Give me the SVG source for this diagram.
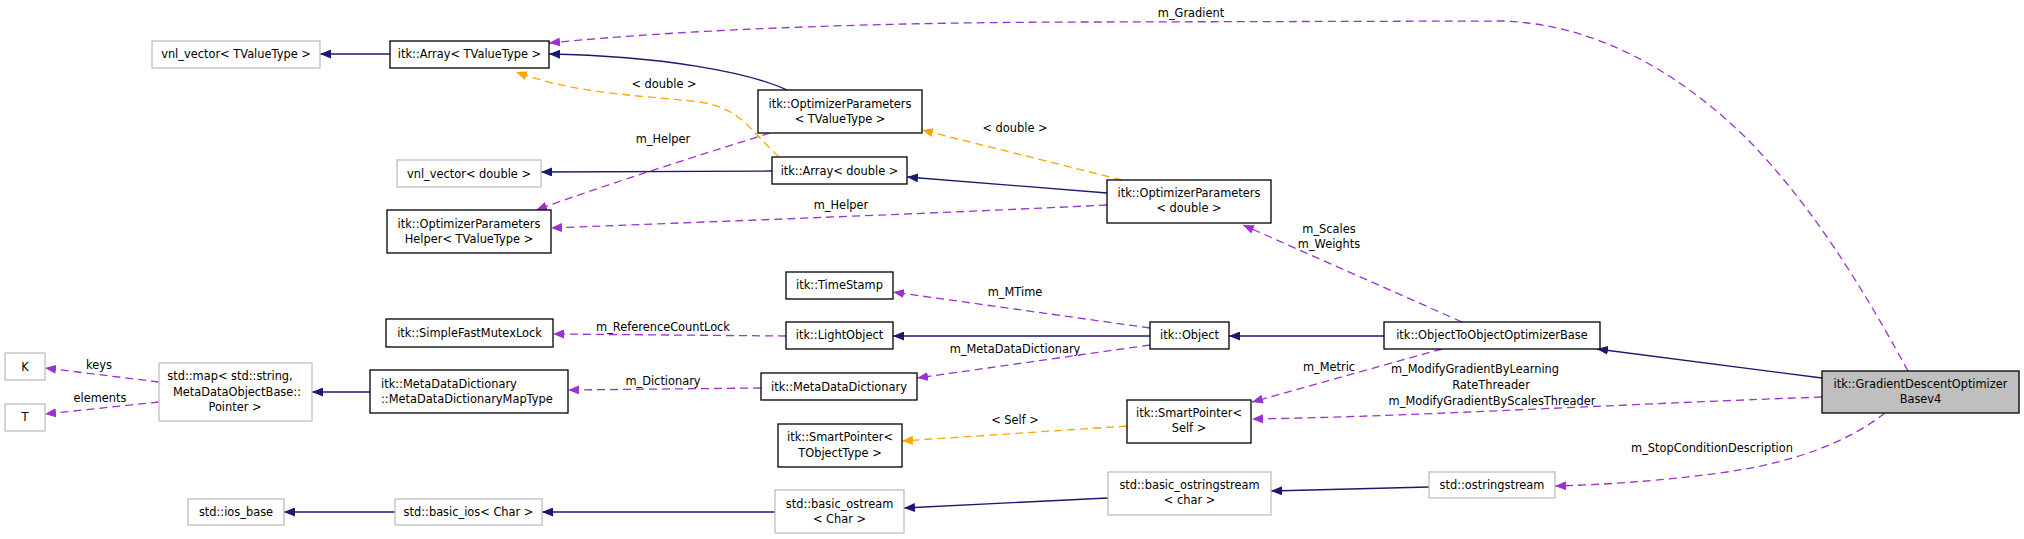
<svg xmlns="http://www.w3.org/2000/svg" width="2024" height="539" viewBox="0 0 2024 539">
<style>
text{font-family:"DejaVu Sans",sans-serif;font-size:11.4px;fill:#000;text-anchor:middle}
.st{text-anchor:start}
.nb{fill:#fff;stroke:#000;stroke-width:1.3}
.ng{fill:#fff;stroke:#bfbfbf;stroke-width:1.3}
.nd{fill:#bfbfbf;stroke:#000;stroke-width:1.3}
.inh{fill:none;stroke:#191970;stroke-width:1.3;marker-end:url(#an)}
.use{fill:none;stroke:#9a32cd;stroke-width:1.3;stroke-dasharray:8,5;marker-end:url(#ap)}
.tpl{fill:none;stroke:#ffa500;stroke-width:1.3;stroke-dasharray:8,5;marker-end:url(#ao)}
</style>
<defs>
<marker id="an" markerUnits="userSpaceOnUse" markerWidth="12" markerHeight="9" refX="11" refY="4.5" orient="auto"><path d="M0,0 L11,4.5 L0,9 z" fill="#191970"/></marker>
<marker id="ap" markerUnits="userSpaceOnUse" markerWidth="12" markerHeight="9" refX="11" refY="4.5" orient="auto"><path d="M0,0 L11,4.5 L0,9 z" fill="#9a32cd"/></marker>
<marker id="ao" markerUnits="userSpaceOnUse" markerWidth="12" markerHeight="9" refX="11" refY="4.5" orient="auto"><path d="M0,0 L11,4.5 L0,9 z" fill="#ffa500"/></marker>
</defs>
<rect width="2024" height="539" fill="#fff"/>
<g id="edges">
<path class="inh" d="M390,54 L320,54"/>
<path class="inh" d="M789,91 C750,72 660,56 549,54"/>
<path class="inh" d="M772,171 L541,172"/>
<path class="inh" d="M1107,193 L907,177"/>
<path class="inh" d="M1150,336 L893,336"/>
<path class="inh" d="M1384,336 L1229,336"/>
<path class="inh" d="M1822,378 L1597,349"/>
<path class="inh" d="M370,392 L312,392"/>
<path class="inh" d="M395,512 L284,512"/>
<path class="inh" d="M775,512 L542,512"/>
<path class="inh" d="M1108,498 L904,508"/>
<path class="inh" d="M1429,487 L1271,491"/>
<path class="use" d="M1908,371 C1880,320 1820,210 1741,133 C1680,75 1600,25 1504,21 L1100,22 C900,22 700,28 549,43"/>
<path class="use" d="M770,133 C700,155 620,180 536,210"/>
<path class="use" d="M1107,205 C900,215 700,222 551,228"/>
<path class="use" d="M1462,322 L1243,225"/>
<path class="use" d="M1150,328 L893,292"/>
<path class="use" d="M786,336 L553,334"/>
<path class="use" d="M1150,345 L917,378"/>
<path class="use" d="M761,388 L568,390"/>
<path class="use" d="M159,382 L45,368"/>
<path class="use" d="M159,402 L45,414"/>
<path class="use" d="M1442,349 L1252,402"/>
<path class="use" d="M1822,397 C1600,405 1400,417 1252,419"/>
<path class="use" d="M1885,413 C1850,440 1800,462 1720,473 C1660,481 1600,485 1555,486"/>
<path class="tpl" d="M1122,180 L922,130"/>
<path class="tpl" d="M779,157 C750,130 740,108 700,102 C640,95 580,95 516,72"/>
<path class="tpl" d="M1127,426 L902,441"/>
<text x="1191" y="17">m_Gradient</text>
<text x="664" y="88">&lt; double &gt;</text>
<text x="663" y="143">m_Helper</text>
<text x="1015" y="132">&lt; double &gt;</text>
<text x="841" y="209">m_Helper</text>
<text x="1329" y="233">m_Scales</text>
<text x="1329" y="248">m_Weights</text>
<text x="1015" y="296">m_MTime</text>
<text x="663" y="331">m_ReferenceCountLock</text>
<text x="1015" y="353">m_MetaDataDictionary</text>
<text x="663" y="385">m_Dictionary</text>
<text x="99" y="369">keys</text>
<text x="100" y="402">elements</text>
<text x="1329" y="371">m_Metric</text>
<text x="1475" y="373">m_ModifyGradientByLearning</text>
<text x="1491" y="389">RateThreader</text>
<text x="1492" y="405">m_ModifyGradientByScalesThreader</text>
<text x="1015" y="424">&lt; Self &gt;</text>
<text x="1712" y="452">m_StopConditionDescription</text>
</g>
<g id="vnl_TV"><rect class="ng" x="152" y="41" width="168" height="27"/><text x="236" y="58">vnl_vector&lt; TValueType &gt;</text></g>
<g id="arrayTV"><rect class="nb" x="390" y="41" width="159" height="27"/><text x="469.5" y="58">itk::Array&lt; TValueType &gt;</text></g>
<g id="optTV"><rect class="nb" x="758" y="90" width="164" height="43"/><text x="840" y="108">itk::OptimizerParameters</text><text x="840" y="123">&lt; TValueType &gt;</text></g>
<g id="arrayD"><rect class="nb" x="772" y="157" width="135" height="27"/><text x="839.5" y="175">itk::Array&lt; double &gt;</text></g>
<g id="vnlD"><rect class="ng" x="397" y="160" width="144" height="27"/><text x="469" y="178">vnl_vector&lt; double &gt;</text></g>
<g id="helper"><rect class="nb" x="387" y="210" width="164" height="43"/><text x="469" y="228">itk::OptimizerParameters</text><text x="469" y="243">Helper&lt; TValueType &gt;</text></g>
<g id="optD"><rect class="nb" x="1107" y="180" width="164" height="43"/><text x="1189" y="197">itk::OptimizerParameters</text><text x="1189" y="212">&lt; double &gt;</text></g>
<g id="timestamp"><rect class="nb" x="786" y="272" width="107" height="27"/><text x="839.5" y="289">itk::TimeStamp</text></g>
<g id="mutex"><rect class="nb" x="386" y="319" width="167" height="28"/><text x="469.5" y="337">itk::SimpleFastMutexLock</text></g>
<g id="lightobj"><rect class="nb" x="786" y="322" width="107" height="27"/><text x="839.5" y="339">itk::LightObject</text></g>
<g id="object"><rect class="nb" x="1150" y="322" width="79" height="27"/><text x="1189.5" y="339">itk::Object</text></g>
<g id="o2o"><rect class="nb" x="1384" y="322" width="216" height="27"/><text x="1492" y="339">itk::ObjectToObjectOptimizerBase</text></g>
<g id="K"><rect class="ng" x="5" y="353" width="40" height="27"/><text x="25" y="371">K</text></g>
<g id="T"><rect class="ng" x="5" y="404" width="40" height="27"/><text x="25" y="421">T</text></g>
<g id="map"><rect class="ng" x="159" y="363" width="153" height="58"/><text x="230" y="380">std::map&lt; std::string,</text><text x="237" y="396">MetaDataObjectBase::</text><text x="235" y="411">Pointer &gt;</text></g>
<g id="mapType"><rect class="nb" x="370" y="370" width="198" height="43"/><text class="st" x="381" y="388">itk::MetaDataDictionary</text><text class="st" x="381" y="403">::MetaDataDictionaryMapType</text></g>
<g id="metaDict"><rect class="nb" x="761" y="373" width="156" height="27"/><text x="839" y="391">itk::MetaDataDictionary</text></g>
<g id="spSelf"><rect class="nb" x="1127" y="400" width="124" height="43"/><text x="1189" y="417">itk::SmartPointer&lt;</text><text x="1189" y="432">Self &gt;</text></g>
<g id="spTO"><rect class="nb" x="778" y="424" width="124" height="43"/><text x="840" y="441">itk::SmartPointer&lt;</text><text x="840" y="457">TObjectType &gt;</text></g>
<g id="ostringstream"><rect class="ng" x="1429" y="472" width="126" height="26"/><text x="1492" y="489">std::ostringstream</text></g>
<g id="basic_ostringstream"><rect class="ng" x="1108" y="472" width="163" height="43"/><text x="1189.5" y="489">std::basic_ostringstream</text><text x="1189.5" y="504">&lt; char &gt;</text></g>
<g id="basic_ostream"><rect class="ng" x="775" y="490" width="129" height="43"/><text x="839.5" y="508">std::basic_ostream</text><text x="839.5" y="523">&lt; Char &gt;</text></g>
<g id="basic_ios"><rect class="ng" x="395" y="499" width="147" height="26"/><text x="468.5" y="516">std::basic_ios&lt; Char &gt;</text></g>
<g id="ios_base"><rect class="ng" x="188" y="499" width="96" height="26"/><text x="236" y="516">std::ios_base</text></g>
<g id="GD"><rect class="nd" x="1822" y="371" width="197" height="42"/><text x="1920.5" y="388">itk::GradientDescentOptimizer</text><text x="1920.5" y="403">Basev4</text></g>
</svg>
